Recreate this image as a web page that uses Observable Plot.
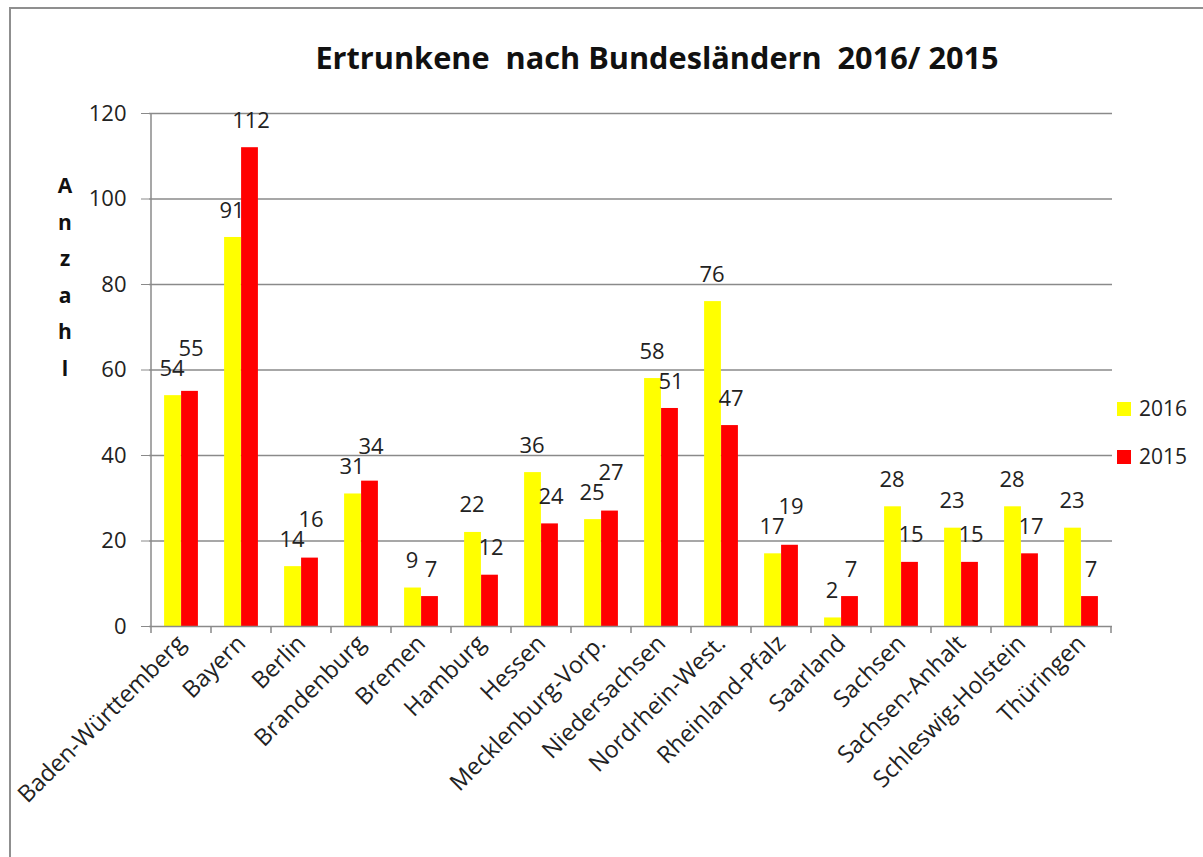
<!DOCTYPE html>
<html>
<head>
<meta charset="utf-8">
<script src="https://cdn.jsdelivr.net/npm/d3@7"></script>
<script src="https://cdn.jsdelivr.net/npm/@observablehq/plot@0.6"></script>
<style>
  body { margin: 0; background: #fff; font-family: "Open Sans", Lato, sans-serif; color: #222; }
  #wrap { position: relative; width: 1203px; height: 857px; overflow: hidden; background: #fff; }
  #border { position: absolute; left: 9px; top: 7px; width: 1400px; height: 1200px; border: 2px solid #8f8f8f; box-sizing: border-box; }
  #chart { position: absolute; left: 0; top: 0; }
  #title { position: absolute; left: 657px; top: 42px; transform: translateX(-50%); white-space: pre; font-weight: 700; font-size: 30.7px; line-height: 1; color: #111; }
  #ylabel { position: absolute; left: 55px; top: 167px; width: 20px; text-align: center; font-weight: 700; font-size: 21px; line-height: 36.5px; color: #111; }
  .leg { position: absolute; left: 1117px; font-size: 21px; line-height: 1; display: flex; align-items: center; color: #222; }
  .leg span.sw { display: inline-block; width: 14px; height: 14px; margin-right: 8px; }
</style>
</head>
<body>
<div id="wrap">
  <div id="border"></div>
  <div id="chart"></div>
  <div id="title"></div>
  <div id="ylabel"></div>
  <div id="legend"></div>
</div>
<script>
// ---- data ----
const states = ["Baden-Württemberg","Bayern","Berlin","Brandenburg","Bremen","Hamburg","Hessen","Mecklenburg-Vorp.","Niedersachsen","Nordrhein-West.","Rheinland-Pfalz","Saarland","Sachsen","Sachsen-Anhalt","Schleswig-Holstein","Thüringen"];
const values2016 = [54, 91, 14, 31, 9, 22, 36, 25, 58, 76, 17, 2, 28, 23, 28, 23];
const values2015 = [55, 112, 16, 34, 7, 12, 24, 27, 51, 47, 19, 7, 15, 15, 17, 7];
const seriesNames = ["2016", "2015"];
const seriesColors = ["#FFFF00", "#FF0000"];
const yTicks = [0, 20, 40, 60, 80, 100, 120];
const titleText = "Ertrunkene  nach Bundesländern  2016/ 2015";
const yLabelText = "Anzahl";

// ---- layout ----
const W = 1203, H = 857;
const mL = 149, mR = 91, mT = 113, mB = 231;
const yMax = 120;
const bw = (W - mL - mR) / states.length;
const barW = 17;
const half = bw / 2;
const pxPerUnit = (H - mT - mB) / yMax;
const labelGap = 20 / pxPerUnit; // keep neighbouring two-digit labels from overlapping

const table = states.map((s, i) => {
  const a = values2016[i], b = values2015[i];
  const bothWide = a >= 10 && b >= 10;
  const close = Math.abs(a - b) < labelGap && bothWide;
  return {
    state: s, v2016: a, v2015: b,
    l2016: close && a > b ? Math.max(a, b + labelGap) : a,
    l2015: close && b >= a ? Math.max(b, a + labelGap) : b
  };
});

const plot = Plot.plot({
  width: W,
  height: H,
  marginLeft: mL, marginRight: mR, marginTop: mT, marginBottom: mB,
  style: {background: "transparent", fontFamily: "'Open Sans', Lato, sans-serif", color: "#222"},
  x: {type: "band", domain: states, padding: 0},
  y: {domain: [0, yMax]},
  marks: [
    Plot.gridY(yTicks.filter(d => d > 0), {stroke: "#8a8a8a", strokeOpacity: 1, strokeWidth: 1.3}),
    Plot.barY(table, {x: "state", y: "v2016", fill: seriesColors[0], insetLeft: half - barW, insetRight: half}),
    Plot.barY(table, {x: "state", y: "v2015", fill: seriesColors[1], insetLeft: half, insetRight: half - barW}),
    Plot.ruleY([0], {stroke: "#8a8a8a", strokeWidth: 1.5}),
    Plot.axisY({ticks: yTicks, tickSize: 8, tickPadding: 15, fontSize: 22, label: null, stroke: "#8a8a8a", fill: "#222"}),
    Plot.axisX({tickRotate: -45, tickSize: 0, tickPadding: 13, fontSize: 23.5, label: null, fill: "#222"}),
    Plot.text(table, {x: "state", y: "l2016", text: d => String(d.v2016), dx: -9.5, dy: -27, fontSize: 22, fill: "#222"}),
    Plot.text(table, {x: "state", y: "l2015", text: d => String(d.v2015), dx: 9.5, dy: -27, fontSize: 22, fill: "#222"})
  ]
});

// y-axis line and category boundary ticks using the plot's scales
const sx = plot.scale("x"), sy = plot.scale("y");
const svg = d3.select(plot);
const g = svg.append("g").attr("stroke", "#8a8a8a").attr("stroke-width", 1.5);
const y0 = sy.apply(0), yTop = sy.apply(yMax);
const xStart = sx.apply(states[0]);
g.append("line").attr("x1", xStart).attr("x2", xStart).attr("y1", yTop).attr("y2", y0);
const bounds = states.map(s => sx.apply(s)).concat([sx.apply(states[states.length - 1]) + sx.bandwidth]);
bounds.forEach(x => g.append("line").attr("x1", x).attr("x2", x).attr("y1", y0).attr("y2", y0 + 7));

document.getElementById("chart").appendChild(plot);

// title, y label, legend
document.getElementById("title").textContent = titleText;
document.getElementById("ylabel").innerHTML = yLabelText.split("").map(c => `<div>${c}</div>`).join("");
const legendTops = [398, 446];
document.getElementById("legend").innerHTML = seriesNames.map((n, i) =>
  `<div class="leg" style="top:${legendTops[i]}px"><span class="sw" style="background:${seriesColors[i]}"></span>${n}</div>`).join("");
</script>
</body>
</html>
